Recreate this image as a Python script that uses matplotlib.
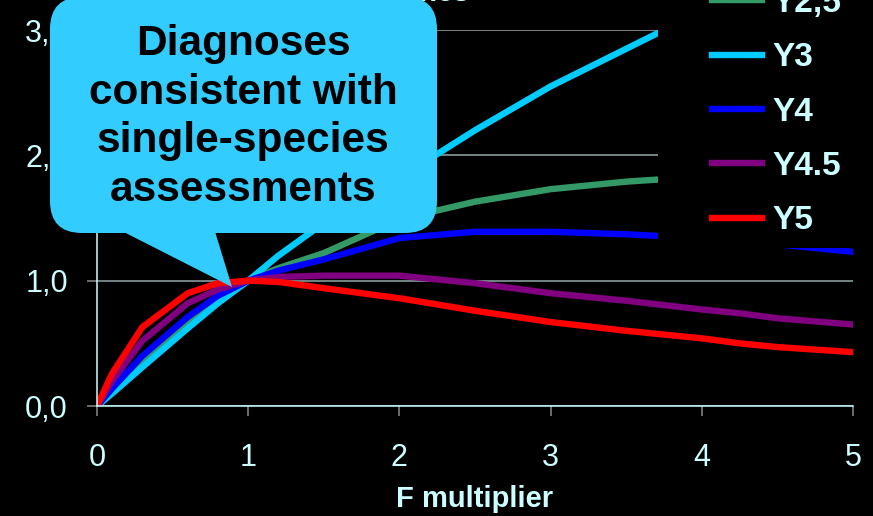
import matplotlib
matplotlib.use("Agg")
import matplotlib.pyplot as plt
from matplotlib.patches import FancyBboxPatch, Polygon, Rectangle
from matplotlib.transforms import Affine2D

# F multiplier grid and relative values
F = [0, 0.1, 0.3, 0.6, 0.8, 1.0, 1.2, 1.5, 2.0, 2.5, 3.0, 3.5, 4.0, 4.25, 4.5, 5.0]
y2_5 = [0, 0.12, 0.36, 0.66, 0.84, 1.0, 1.1, 1.22, 1.49, 1.63, 1.73, 1.79, 1.83, 1.85, 1.86, 1.88]
y3 = [0, 0.1, 0.31, 0.62, 0.82, 1.0, 1.2, 1.46, 1.82, 2.2, 2.55, 2.85, 3.15, 3.3, 3.45, 3.75]
y4 = [0, 0.14, 0.40, 0.71, 0.88, 1.0, 1.08, 1.17, 1.34, 1.39, 1.39, 1.37, 1.34, 1.32, 1.29, 1.23]
y4_5 = [0, 0.2, 0.52, 0.82, 0.93, 1.0, 1.03, 1.04, 1.04, 0.98, 0.90, 0.84, 0.77, 0.74, 0.70, 0.65]
y5 = [0, 0.26, 0.63, 0.90, 0.98, 1.0, 0.99, 0.94, 0.86, 0.76, 0.67, 0.60, 0.54, 0.50, 0.47, 0.43]

labels = ['Y2,5', 'Y3', 'Y4', 'Y4.5', 'Y5']
colors = ['#339966', '#00CCFF', '#0000FF', '#800080', '#FF0000']
xticks = [0, 1, 2, 3, 4, 5]
yticks = [0, 1, 2, 3]
ytick_labels = ['0,0', '1,0', '2,0', '3,0']

LIGHT = '#CCFFFF'
plt.rcParams['font.family'] = ['Liberation Sans', 'DejaVu Sans']

W, H = 873, 516
fig = plt.figure(figsize=(W / 100, H / 100), dpi=100, facecolor='black')
px = Affine2D().scale(0.01) + fig.dpi_scale_trans  # pixel units, origin bottom-left


def P(x, y):
    # pixel measured from top-left -> px transform coords
    return (x, H - y)


ax = fig.add_axes([97 / W, 1 - 406 / H, 756 / W, 376 / H])
ax.set_facecolor('black')

for ys, lab, c in zip([y2_5, y3, y4, y4_5, y5], labels, colors):
    ax.plot(F, ys, color=c, lw=4.6, label=lab, zorder=2)

ax.set_xlim(0, 5)
ax.set_ylim(0, 3)
ax.set_xticks(xticks)
ax.set_yticks(yticks)
ax.set_yticklabels(ytick_labels)
ax.tick_params(axis='both', colors='#808080', labelcolor=LIGHT, labelsize=22,
               direction='out', length=7, width=1.2)
ax.tick_params(axis='x', pad=20)
ax.tick_params(axis='y', pad=14)
ax.yaxis.grid(True, color='#90a8a8', lw=1.1)
ax.set_axisbelow(True)
for s in ['top', 'right']:
    ax.spines[s].set_visible(False)
for s in ['left', 'bottom']:
    ax.spines[s].set_color(LIGHT)
    ax.spines[s].set_linewidth(1.1)
ax.set_xlabel('F multiplier', fontsize=21, fontweight='bold', color=LIGHT, labelpad=8)

# black legend panel hiding the right part of the curves
ax.add_artist(Rectangle(P(658, 248), W - 658 + 5, 260, transform=px,
                        facecolor='black', edgecolor='none', zorder=3, clip_on=False))
leg = ax.legend(loc='upper left', bbox_to_anchor=P(712, -12), bbox_transform=px,
                frameon=False, prop={'size': 24, 'weight': 'bold'}, labelcolor=LIGHT,
                handlelength=1.5, handletextpad=0.3, labelspacing=0.7,
                borderpad=0, borderaxespad=0)
leg.set_zorder(5)

# cut-off slide texts
fig.text(*P(6, 214), 'Catches', transform=px, rotation=90, ha='right', va='center',
         fontsize=21, fontweight='bold', color=LIGHT)
fig.text(*P(470, 1), 'catches', transform=px, ha='right', va='baseline',
         fontsize=21, fontweight='bold', color=LIGHT)

# speech bubble callout
bubble = '#33CCFF'
fig.add_artist(FancyBboxPatch(P(50, 233), 387, 236, boxstyle='round,pad=0,rounding_size=32',
                              transform=px, facecolor=bubble, edgecolor='none', zorder=10))
fig.add_artist(Polygon([P(110, 225), P(213, 225), P(232, 287)], closed=True, transform=px,
                       facecolor=bubble, edgecolor='none', zorder=10))
fig.text(*P(243, 117), 'Diagnoses\nconsistent with\nsingle-species\nassessments',
         transform=px, ha='center', va='center', fontsize=30.5, fontweight='bold',
         color='black', linespacing=1.28, zorder=11)

fig.savefig('out.png', dpi=100, facecolor='black')
